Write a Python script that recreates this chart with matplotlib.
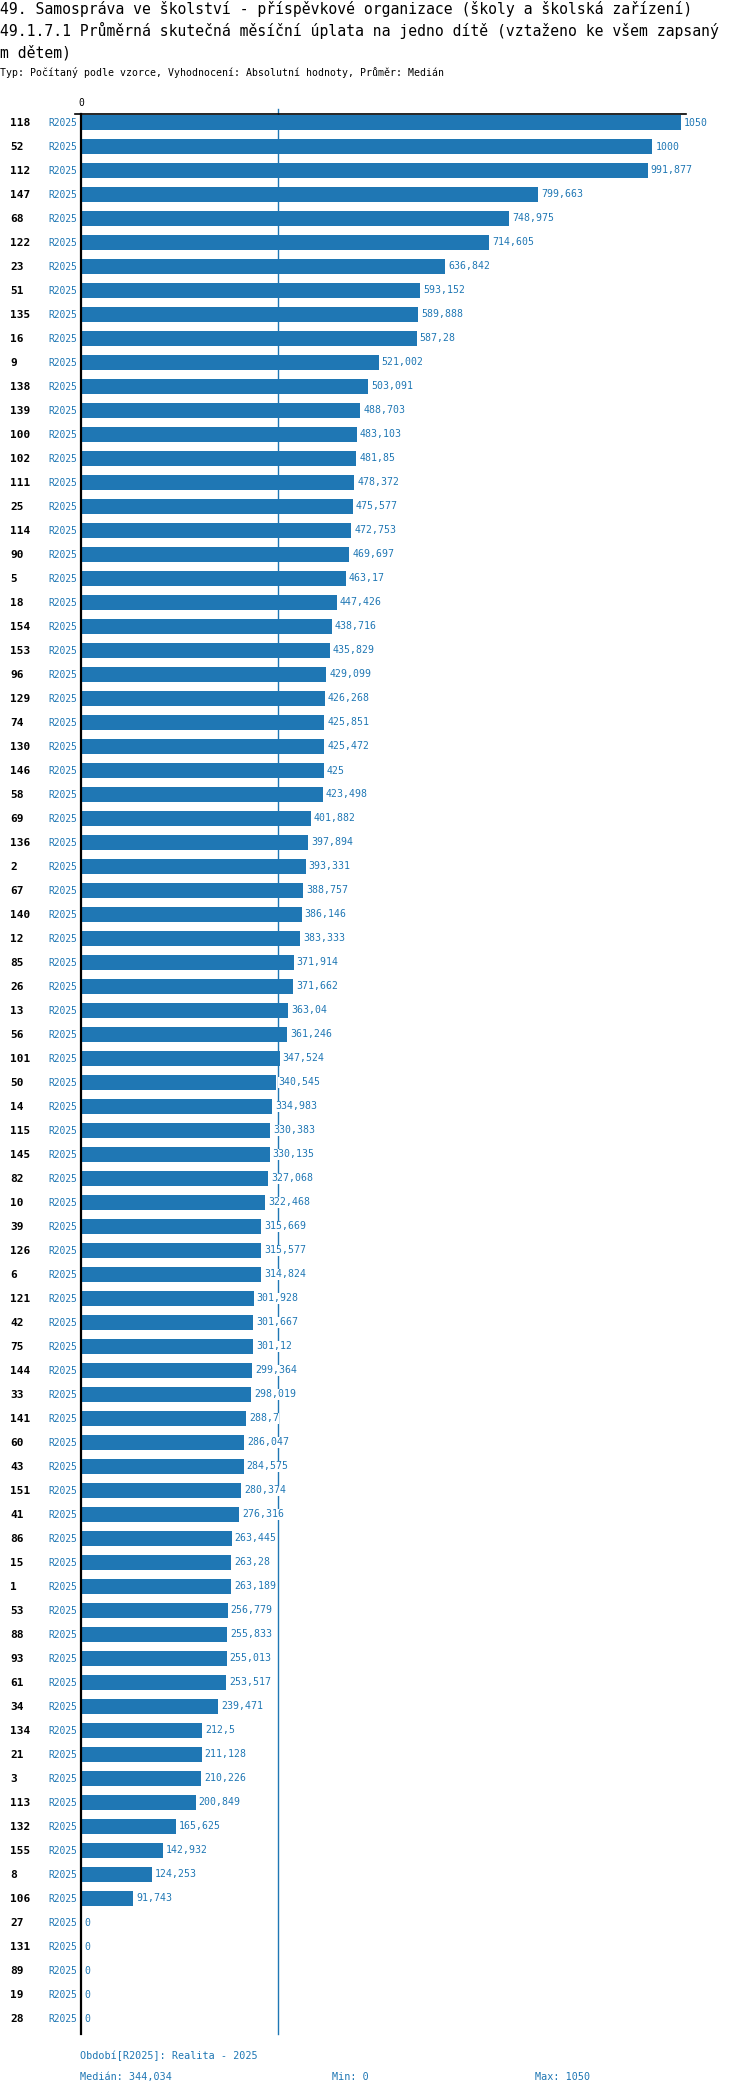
import numpy as np
import matplotlib
matplotlib.use("Agg")
import matplotlib.pyplot as plt
from matplotlib import transforms
from matplotlib.lines import Line2D

ids = ["118", "52", "112", "147", "68", "122", "23", "51", "135", "16", "9", "138", "139", "100",
       "102", "111", "25", "114", "90", "5", "18", "154", "153", "96", "129", "74", "130", "146",
       "58", "69", "136", "2", "67", "140", "12", "85", "26", "13", "56", "101", "50", "14", "115",
       "145", "82", "10", "39", "126", "6", "121", "42", "75", "144", "33", "141", "60", "43", "151",
       "41", "86", "15", "1", "53", "88", "93", "61", "34", "134", "21", "3", "113", "132", "155",
       "8", "106", "27", "131", "89", "19", "28"]
values = [1050, 1000, 991.877, 799.663, 748.975, 714.605, 636.842, 593.152, 589.888, 587.28,
          521.002, 503.091, 488.703, 483.103, 481.85, 478.372, 475.577, 472.753, 469.697, 463.17,
          447.426, 438.716, 435.829, 429.099, 426.268, 425.851, 425.472, 425, 423.498, 401.882,
          397.894, 393.331, 388.757, 386.146, 383.333, 371.914, 371.662, 363.04, 361.246, 347.524,
          340.545, 334.983, 330.383, 330.135, 327.068, 322.468, 315.669, 315.577, 314.824, 301.928,
          301.667, 301.12, 299.364, 298.019, 288.7, 286.047, 284.575, 280.374, 276.316, 263.445,
          263.28, 263.189, 256.779, 255.833, 255.013, 253.517, 239.471, 212.5, 211.128, 210.226,
          200.849, 165.625, 142.932, 124.253, 91.743, 0, 0, 0, 0, 0]
period = "R2025"
title_lines = ["49. Samospráva ve školství - příspěvkové organizace (školy a školská zařízení)",
               "49.1.7.1 Průměrná skutečná měsíční úplata na jedno dítě (vztaženo ke všem zapsaný",
               "m dětem)"]
subtitle = "Typ: Počítaný podle vzorce, Vyhodnocení: Absolutní hodnoty, Průměr: Medián"
legend_text = "Období[R2025]: Realita - 2025"

BLUE = "#1f77b4"
FONT = "DejaVu Sans Mono"
plt.rcParams['font.family'] = [FONT, 'DejaVu Sans']

W, H = 750, 2094
fig = plt.figure(figsize=(W / 100, H / 100), dpi=100)

def fx(px):
    return px / W

def fy(py):
    return 1 - py / H

ax_left, ax_right, ax_top, ax_bottom = 81, 686, 114, 2034
ax = fig.add_axes([fx(ax_left), fy(ax_bottom), fx(ax_right - ax_left), (ax_bottom - ax_top) / H])

n = len(values)
ypos = np.arange(n)
vals = np.array(values, dtype=float)
vmax = vals.max()
vmin = vals.min()
median = np.median(vals)

ax.barh(ypos, vals, height=0.66, color=BLUE, zorder=2)
ax.set_xlim(0, vmax * (ax_right - ax_left) / (681 - ax_left))
ax.set_ylim(79 + 15.5 / 24, -8.5 / 24)

for s in ["right", "bottom", "top"]:
    ax.spines[s].set_visible(False)
ax.spines["left"].set_linewidth(1.6)
ax.spines["left"].set_color("black")
ax.spines["left"].set_zorder(5)

# top line
ax.add_line(Line2D([-6 / (ax_right - ax_left), 1], [1, 1], transform=ax.transAxes,
                   color="black", linewidth=1.2, clip_on=False, zorder=5))

ax.xaxis.tick_top()
ax.set_xticks([0])
ax.set_xticklabels(["0"])
ax.tick_params(axis="x", length=0, pad=4, labelsize=7)
ax.set_yticks([])

ax.axvline(median, ymin=0, ymax=1 + 5 / (ax_bottom - ax_top), color=BLUE, linewidth=1.0,
           clip_on=False, zorder=1)

def fmt(v):
    s = f"{v:.3f}".rstrip("0").rstrip(".")
    return s.replace(".", ",")

for i, v in enumerate(vals):
    ax.annotate(fmt(v), xy=(v, i), xytext=(3, 0), textcoords="offset pixels",
                ha="left", va="center", fontsize=7.1, color=BLUE, zorder=4,
                bbox=dict(facecolor="white", edgecolor="none", pad=0.3))

tr = transforms.blended_transform_factory(fig.transFigure, ax.transData)
for i, lab in enumerate(ids):
    fig.text(fx(10), i, lab, transform=tr, ha="left", va="center", fontsize=8,
             fontweight="bold", color="black")
    fig.text(fx(77.5), i, period, transform=tr, ha="right", va="center", fontsize=6.9,
             color=BLUE)

for k, line in enumerate(title_lines):
    fig.text(0, fy(9 + 21.7 * k), line, ha="left", va="center", fontsize=10.6, color="black")
fig.text(0, fy(73), subtitle, ha="left", va="center", fontsize=7.1, color="black")

fig.text(fx(80), fy(2056), legend_text, ha="left", va="center", fontsize=7.3, color=BLUE)
med_s = fmt(np.floor(median * 1000) / 1000)
fig.text(fx(80), fy(2077), f"Medián: {med_s}", ha="left", va="center", fontsize=7.3, color=BLUE)
fig.text(fx(332), fy(2077), f"Min: {fmt(vmin)}", ha="left", va="center", fontsize=7.3, color=BLUE)
fig.text(fx(535), fy(2077), f"Max: {fmt(vmax)}", ha="left", va="center", fontsize=7.3, color=BLUE)

fig.savefig("out.png", dpi=100, facecolor="white")
